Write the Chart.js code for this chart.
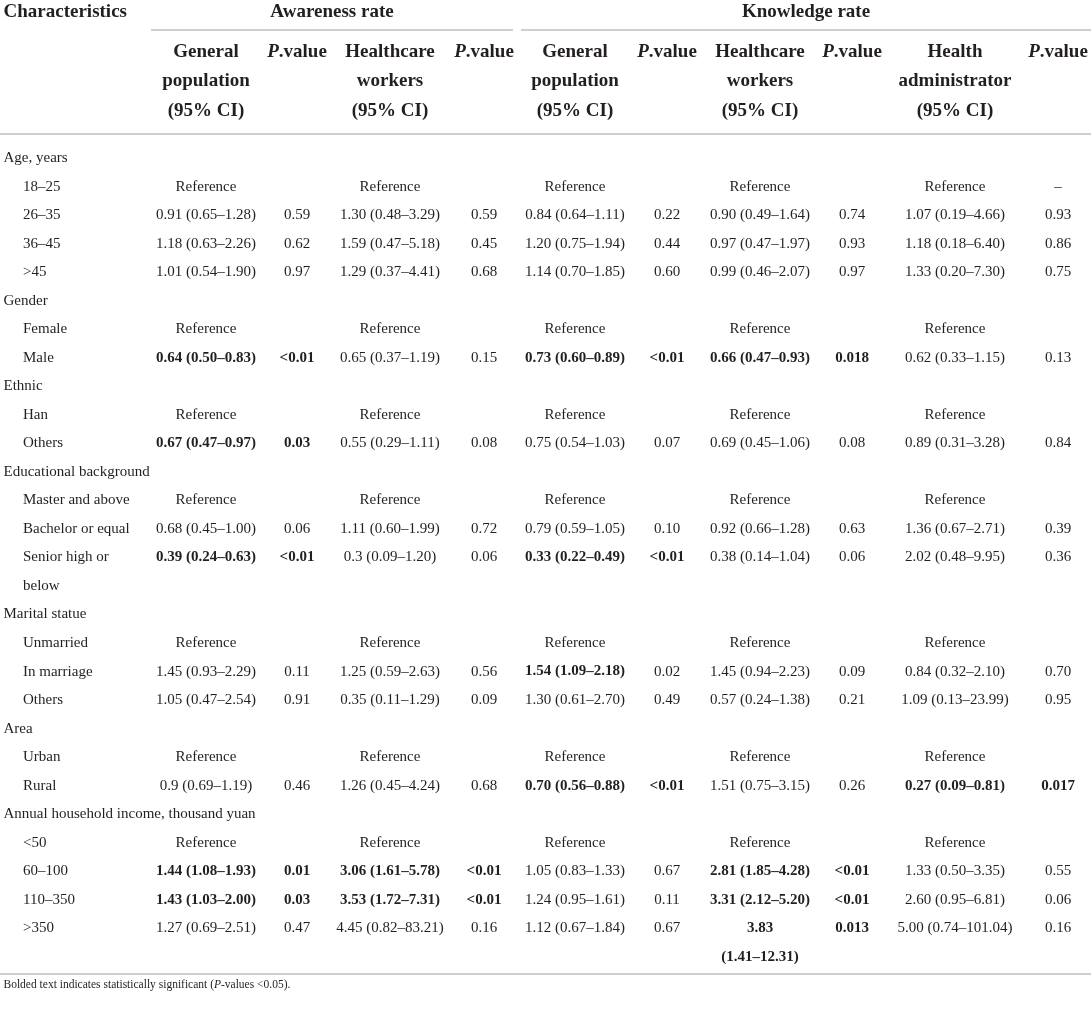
<!DOCTYPE html>
<html>
<head>
<meta charset="utf-8">
<script src="https://cdn.jsdelivr.net/npm/chart.js@4.4.1/dist/chart.umd.min.js"></script>
<style>
  html, body { margin: 0; padding: 0; background: #fff; }
  #wrap { width: 1091px; height: 1013px; position: relative; }
</style>
</head>
<body>
<div id="wrap"><canvas id="tabla"></canvas></div>
<script>
// 1. Datos de la tabla (un "*" delante marca un valor significativo, en negrita)
const R = 'Reference';

const rowLabels = ['Age, years', '18–25', '26–35', '36–45', '>45',
  'Gender', 'Female', 'Male',
  'Ethnic', 'Han', 'Others',
  'Educational background', 'Master and above', 'Bachelor or equal', 'Senior high or', 'below',
  'Marital statue', 'Unmarried', 'In marriage', 'Others',
  'Area', 'Urban', 'Rural',
  'Annual household income, thousand yuan', '<50', '60–100', '110–350', '>350', ''];
const rowIsGroup = [1, 0, 0, 0, 0, 1, 0, 0, 1, 0, 0, 1, 0, 0, 0, 0, 1, 0, 0, 0, 1, 0, 0, 1, 0, 0, 0, 0, 0];

const gpAware = ['', R, '0.91 (0.65–1.28)', '1.18 (0.63–2.26)', '1.01 (0.54–1.90)', '', R, '*0.64 (0.50–0.83)', '', R, '*0.67 (0.47–0.97)',
  '', R, '0.68 (0.45–1.00)', '*0.39 (0.24–0.63)', '', '', R, '1.45 (0.93–2.29)', '1.05 (0.47–2.54)', '', R, '0.9 (0.69–1.19)',
  '', R, '*1.44 (1.08–1.93)', '*1.43 (1.03–2.00)', '1.27 (0.69–2.51)', ''];
const gpAwareP = ['', '', '0.59', '0.62', '0.97', '', '', '*<0.01', '', '', '*0.03',
  '', '', '0.06', '*<0.01', '', '', '', '0.11', '0.91', '', '', '0.46',
  '', '', '*0.01', '*0.03', '0.47', ''];
const hcwAware = ['', R, '1.30 (0.48–3.29)', '1.59 (0.47–5.18)', '1.29 (0.37–4.41)', '', R, '0.65 (0.37–1.19)', '', R, '0.55 (0.29–1.11)',
  '', R, '1.11 (0.60–1.99)', '0.3 (0.09–1.20)', '', '', R, '1.25 (0.59–2.63)', '0.35 (0.11–1.29)', '', R, '1.26 (0.45–4.24)',
  '', R, '*3.06 (1.61–5.78)', '*3.53 (1.72–7.31)', '4.45 (0.82–83.21)', ''];
const hcwAwareP = ['', '', '0.59', '0.45', '0.68', '', '', '0.15', '', '', '0.08',
  '', '', '0.72', '0.06', '', '', '', '0.56', '0.09', '', '', '0.68',
  '', '', '*<0.01', '*<0.01', '0.16', ''];
const gpKnow = ['', R, '0.84 (0.64–1.11)', '1.20 (0.75–1.94)', '1.14 (0.70–1.85)', '', R, '*0.73 (0.60–0.89)', '', R, '0.75 (0.54–1.03)',
  '', R, '0.79 (0.59–1.05)', '*0.33 (0.22–0.49)', '', '', R, '*1.54 (1.09–2.18)', '1.30 (0.61–2.70)', '', R, '*0.70 (0.56–0.88)',
  '', R, '1.05 (0.83–1.33)', '1.24 (0.95–1.61)', '1.12 (0.67–1.84)', ''];
const gpKnowP = ['', '', '0.22', '0.44', '0.60', '', '', '*<0.01', '', '', '0.07',
  '', '', '0.10', '*<0.01', '', '', '', '0.02', '0.49', '', '', '*<0.01',
  '', '', '0.67', '0.11', '0.67', ''];
const hcwKnow = ['', R, '0.90 (0.49–1.64)', '0.97 (0.47–1.97)', '0.99 (0.46–2.07)', '', R, '*0.66 (0.47–0.93)', '', R, '0.69 (0.45–1.06)',
  '', R, '0.92 (0.66–1.28)', '0.38 (0.14–1.04)', '', '', R, '1.45 (0.94–2.23)', '0.57 (0.24–1.38)', '', R, '1.51 (0.75–3.15)',
  '', R, '*2.81 (1.85–4.28)', '*3.31 (2.12–5.20)', '*3.83', '*(1.41–12.31)'];
const hcwKnowP = ['', '', '0.74', '0.93', '0.97', '', '', '*0.018', '', '', '0.08',
  '', '', '0.63', '0.06', '', '', '', '0.09', '0.21', '', '', '0.26',
  '', '', '*<0.01', '*<0.01', '*0.013', ''];
const haKnow = ['', R, '1.07 (0.19–4.66)', '1.18 (0.18–6.40)', '1.33 (0.20–7.30)', '', R, '0.62 (0.33–1.15)', '', R, '0.89 (0.31–3.28)',
  '', R, '1.36 (0.67–2.71)', '2.02 (0.48–9.95)', '', '', R, '0.84 (0.32–2.10)', '1.09 (0.13–23.99)', '', R, '*0.27 (0.09–0.81)',
  '', R, '1.33 (0.50–3.35)', '2.60 (0.95–6.81)', '5.00 (0.74–101.04)', ''];
const haKnowP = ['', '–', '0.93', '0.86', '0.75', '', '', '0.13', '', '', '0.84',
  '', '', '0.39', '0.36', '', '', '', '0.70', '0.95', '', '', '*0.017',
  '', '', '0.55', '0.06', '0.16', ''];

const columnas = [gpAware, gpAwareP, hcwAware, hcwAwareP, gpKnow, gpKnowP, hcwKnow, hcwKnowP, haKnow, haKnowP];
const colHeaders = [['General', 'population', '(95% CI)'], ['P.value'], ['Healthcare', 'workers', '(95% CI)'], ['P.value'],
  ['General', 'population', '(95% CI)'], ['P.value'], ['Healthcare', 'workers', '(95% CI)'], ['P.value'],
  ['Health', 'administrator', '(95% CI)'], ['P.value']];
const groupHeaders = ['Awareness rate', 'Knowledge rate'];
const groupSpans = [[1, 5], [5, 11]];   // bordes de columna que cubre cada grupo
const footnote = 'Bolded text indicates statistically significant (P-values <0.05).';

// 2. Maqueta (anchos de columna en unidades de la escala x)
const colWidths = [147, 118, 64, 122, 66, 116, 68, 118, 66, 140, 66];
const anchoTabla = colWidths.reduce((a, b) => a + b, 0);
const bordes = [0];
colWidths.forEach(w => bordes.push(bordes[bordes.length - 1] + w));
const centros = colWidths.map((w, i) => bordes[i] + w / 2);
const rowKeys = rowLabels.map((l, i) => 'r' + i);

const FAM = '"Liberation Serif", "Times New Roman", serif';
const COLOR = '#231f20';
const LINEA = '#cfcfcf';

// 3. Plugin que escribe el texto de cada celda
function textoRico(ctx, partes, x, y, align) {
  let ancho = 0;
  partes.forEach(p => { ctx.font = p.font; ancho += ctx.measureText(p.t).width; });
  let cx = align === 'center' ? x - ancho / 2 : x;
  ctx.textAlign = 'left';
  partes.forEach(p => {
    ctx.font = p.font;
    ctx.fillText(p.t, cx, y);
    cx += ctx.measureText(p.t).width;
  });
}

const pluginTabla = {
  id: 'pluginTabla',
  afterDatasetsDraw(chart) {
    const ctx = chart.ctx;
    const sx = chart.scales.x;
    const sy = chart.scales.y;
    ctx.save();
    ctx.fillStyle = COLOR;
    ctx.textBaseline = 'middle';

    const bold19 = 'bold 19px ' + FAM;
    const boldIt19 = 'italic bold 19px ' + FAM;

    // encabezados
    ctx.font = bold19;
    ctx.textAlign = 'left';
    ctx.fillText('Characteristics', sx.getPixelForValue(3.5), 12);
    groupHeaders.forEach((g, i) => {
      const ini = bordes[groupSpans[i][0]];
      const fin = bordes[groupSpans[i][1]];
      const a = sx.getPixelForValue(ini + 4);
      const b = sx.getPixelForValue(fin < anchoTabla ? fin - 4 : fin);
      ctx.textAlign = 'center';
      ctx.font = bold19;
      ctx.fillText(g, (a + b) / 2, 12);
      ctx.strokeStyle = LINEA;
      ctx.lineWidth = 2;
      ctx.beginPath();
      ctx.moveTo(a, 30);
      ctx.lineTo(b, 30);
      ctx.stroke();
    });
    colHeaders.forEach((lineas, c) => {
      const cx = sx.getPixelForValue(centros[c + 1]);
      lineas.forEach((t, k) => {
        const yy = 52 + k * 29.5;
        if (t === 'P.value') {
          textoRico(ctx, [{ t: 'P', font: boldIt19 }, { t: '.value', font: bold19 }], cx, yy, 'center');
        } else {
          ctx.font = bold19;
          ctx.textAlign = 'center';
          ctx.fillText(t, cx, yy);
        }
      });
    });

    // lineas horizontales
    ctx.strokeStyle = LINEA;
    ctx.lineWidth = 2;
    [134, 974].forEach(yy => {
      ctx.beginPath();
      ctx.moveTo(sx.getPixelForValue(0), yy);
      ctx.lineTo(sx.getPixelForValue(anchoTabla), yy);
      ctx.stroke();
    });

    // etiquetas de fila
    ctx.font = '15px ' + FAM;
    ctx.textAlign = 'left';
    rowLabels.forEach((l, i) => {
      if (!l) return;
      const xx = sx.getPixelForValue(rowIsGroup[i] ? 3.5 : 23);
      ctx.fillText(l, xx, sy.getPixelForValue(rowKeys[i]));
    });

    // celdas: posicion tomada de los puntos del dataset
    chart.data.datasets.forEach((ds, d) => {
      const meta = chart.getDatasetMeta(d);
      meta.data.forEach((pt, j) => {
        let t = ds.textos[j];
        let negrita = t.startsWith('*');
        if (negrita) t = t.slice(1);
        ctx.font = (negrita ? 'bold ' : '') + '15px ' + FAM;
        ctx.textAlign = 'center';
        ctx.fillText(t, pt.x, pt.y);
      });
    });

    // nota al pie
    const f = '11.5px ' + FAM;
    const fi = 'italic 11.5px ' + FAM;
    const k = footnote.indexOf('(P') + 1;
    textoRico(ctx, [
      { t: footnote.slice(0, k), font: f },
      { t: 'P', font: fi },
      { t: footnote.slice(k + 1), font: f }
    ], sx.getPixelForValue(3.5), 985, 'left');

    ctx.restore();
  }
};

// 4. Construccion del grafico
const datasets = columnas.map((col, c) => {
  const filas = col.map((t, r) => r).filter(r => col[r] !== '');
  return {
    data: filas.map(r => ({ x: centros[c + 1], y: rowKeys[r] })),
    textos: filas.map(r => col[r]),
    pointRadius: 0,
    pointHoverRadius: 0,
    showLine: false
  };
});

const ctx = document.getElementById('tabla').getContext('2d');
const tabla = new Chart(ctx, {
  type: 'scatter',
  data: { datasets: datasets },
  options: {
    responsive: true,
    maintainAspectRatio: false,
    animation: false,
    events: [],
    layout: { padding: { top: 144, bottom: 42, left: 0, right: 0 } },
    plugins: { legend: { display: false }, tooltip: { enabled: false } },
    scales: {
      x: { type: 'linear', min: 0, max: anchoTabla, display: false },
      y: { type: 'category', labels: rowKeys, offset: true, display: false }
    }
  },
  plugins: [pluginTabla]
});
</script>
</body>
</html>
